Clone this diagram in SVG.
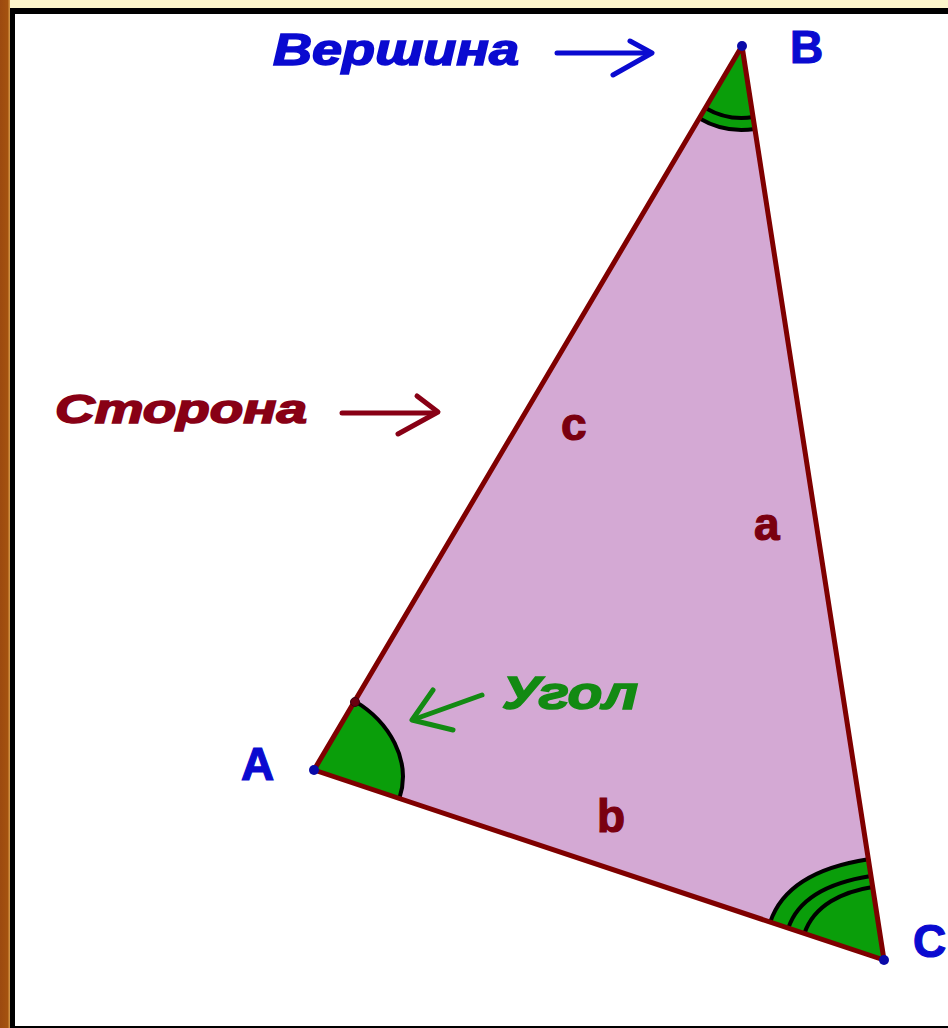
<svg xmlns="http://www.w3.org/2000/svg" width="948" height="1028" viewBox="0 0 948 1028">
  <defs>
    <linearGradient id="brown" x1="0" y1="0" x2="1" y2="0">
      <stop offset="0" stop-color="#9c4a10"/>
      <stop offset="0.75" stop-color="#a4520f"/>
      <stop offset="1" stop-color="#d9a050"/>
    </linearGradient>
  </defs>
  <style>
    .side{fill:none;stroke:#7f0000;stroke-width:5;stroke-linejoin:round;stroke-linecap:round}
    .ang{fill:#0a9e0a;stroke:none}
    .arc{fill:none;stroke:#000;stroke-width:4}
    .lbl{font-family:"Liberation Sans",Arial,sans-serif;font-weight:bold;font-size:46px;stroke-width:1.2}
    .note{font-family:"Liberation Sans",Arial,sans-serif;font-weight:bold;font-style:italic;stroke-width:1.6}
    .vtx{fill:#0a0aa8}
    .arr{fill:none;stroke-width:5;stroke-linecap:round;stroke-linejoin:round}
  </style>

  <!-- frame -->
  <rect x="0" y="0" width="948" height="1028" fill="#000"/>
  <rect x="0" y="0" width="948" height="8" fill="#fdf6cc"/>
  <rect x="0" y="0" width="10" height="1028" fill="url(#brown)"/>
  <rect x="15" y="14" width="933" height="1012" fill="#fff"/>

  <g id="triangle">
    <polygon points="314,770 742,46 884,960" fill="#d4a9d4" stroke="none"/>
  </g>

  <g id="angle-A">
    <path class="ang" d="M314,770 L354.7,701.1 C389.1,721.5 412,760.4 399.4,798.4 Z"/>
    <path class="arc" d="M354.7,701.1 C389.1,721.5 412,760.4 399.4,798.4"/>
  </g>

  <g id="angle-B">
    <path class="ang" d="M742,46 L699.2,118.3 A84,84 0 0 0 754.9,129 Z"/>
    <path class="arc" d="M699.2,118.3 A84,84 0 0 0 754.9,129" stroke-width="3.5"/>
    <path class="arc" d="M705.4,108 A72,72 0 0 0 753.1,117.1" stroke-width="3.5"/>
  </g>

  <g id="angle-C">
    <path class="ang" d="M884,960 L770.2,922.1 C783.5,882.2 826.8,865.6 868.3,859.2 Z"/>
    <path class="arc" d="M770.2,922.1 C783.5,882.2 826.8,865.6 868.3,859.2"/>
    <path class="arc" d="M788.3,928.1 C799.4,894.9 836.4,881.4 871,876"/>
    <path class="arc" d="M804.4,933.5 C813.9,905 843,891.5 872.6,886.9"/>
  </g>

  <g id="sides">
    <polygon class="side" points="314,770 742,46 884,960"/>
    <circle cx="355" cy="702" r="4.5" fill="#6a0010" stroke="#3a0010" stroke-width="1"/>
  </g>

  <g id="vertex-A">
    <circle class="vtx" cx="314" cy="770" r="5"/>
    <text class="lbl" x="241" y="780" fill="#0a0ad0" stroke="#0a0ad0">A</text>
  </g>
  <g id="vertex-B">
    <circle class="vtx" cx="742" cy="46" r="5"/>
    <text class="lbl" x="790" y="63" fill="#0a0ad0" stroke="#0a0ad0">B</text>
  </g>
  <g id="vertex-C">
    <circle class="vtx" cx="884" cy="960" r="5"/>
    <text class="lbl" x="913" y="957" fill="#0a0ad0" stroke="#0a0ad0">C</text>
  </g>

  <g id="side-labels" class="lbl" fill="#7a0010" stroke="#7a0010">
    <text x="561" y="440">c</text>
    <text x="754" y="540">a</text>
    <text x="597" y="832">b</text>
  </g>

  <g id="label-vershina">
    <text class="note" x="273" y="65" font-size="44" fill="#0a0ad0" stroke="#0a0ad0" textLength="246" lengthAdjust="spacingAndGlyphs">Вершина</text>
  </g>
  <g id="label-storona">
    <text class="note" x="55" y="423" font-size="40" fill="#880015" stroke="#880015" textLength="252" lengthAdjust="spacingAndGlyphs">Сторона</text>
  </g>
  <g id="label-ugol">
    <text class="note" x="502" y="709" font-size="46" fill="#138a13" stroke="#138a13" textLength="136" lengthAdjust="spacingAndGlyphs">Угол</text>
  </g>

  <g id="connectors">
    <g class="arr" stroke="#0a0ad0">
      <path d="M557,53 L648,53"/>
      <path d="M630,41 L652,53 L613,75"/>
    </g>
    <g class="arr" stroke="#880015">
      <path d="M342,413 L434,413"/>
      <path d="M417,396 L438,412 L398,434"/>
    </g>
    <g class="arr" stroke="#138a13">
      <path d="M482,695 L415,719"/>
      <path d="M433,690 L412,720 L453,730"/>
    </g>
  </g>
</svg>
